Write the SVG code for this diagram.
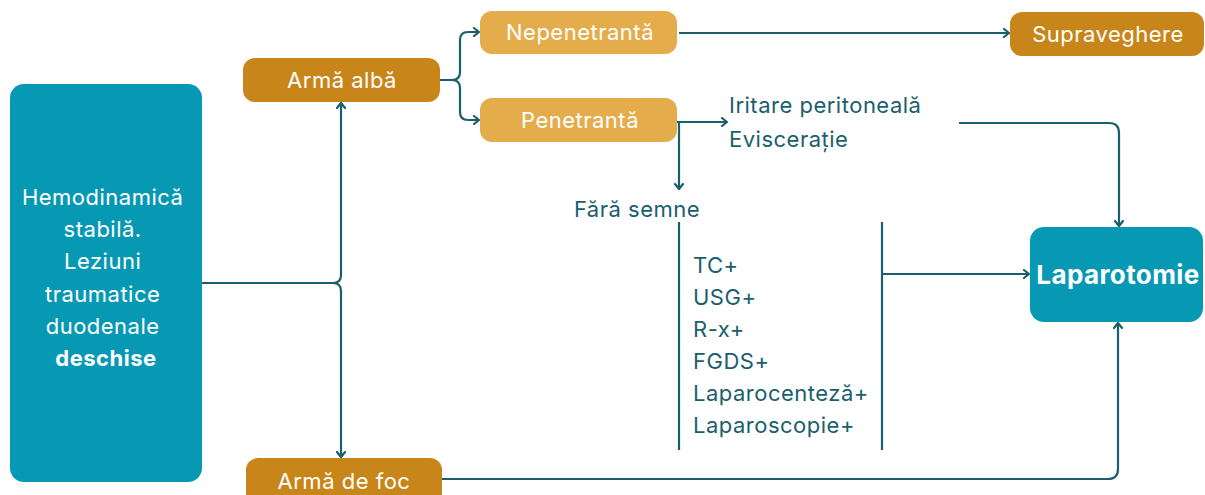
<svg xmlns="http://www.w3.org/2000/svg" width="1205" height="495" viewBox="0 0 1205 495">
<style>
.box-teal{fill:#0799b4}
.box-dark{fill:#c8861a}
.box-light{fill:#e5ac4b}
.wt{fill:#ffffff;font-family:Inter,"Liberation Sans",sans-serif;font-size:22px;letter-spacing:0.5px}
.tt{fill:#1b5e6d;font-family:Inter,"Liberation Sans",sans-serif;font-size:22px;letter-spacing:0.5px}
.big{font-size:26px;font-weight:bold;letter-spacing:0.4px}
.ln{fill:none;stroke:#1b5e6d;stroke-width:2.2}
</style>
<defs>
<marker id="arr" viewBox="0 0 10 10" refX="8" refY="5" markerWidth="10" markerHeight="10" markerUnits="userSpaceOnUse" orient="auto">
<path d="M3,1 L8,5 L3,9" fill="none" stroke="#1b5e6d" stroke-width="2.2" stroke-linecap="round" stroke-linejoin="round"/>
</marker>
</defs>
<rect width="1205" height="495" fill="#ffffff"/>
<g id="connectors">
<path class="ln" d="M202,283 H333 Q341,283 341,275 V103" marker-end="url(#arr)"/>
<path class="ln" d="M333,283 Q341,283 341,291 V457" marker-end="url(#arr)"/>
<path class="ln" d="M440,80 H452 Q460,80 460,72 V40 Q460,32 468,32 H479" marker-end="url(#arr)"/>
<path class="ln" d="M452,80 Q460,80 460,88 V112 Q460,120 468,120 H479" marker-end="url(#arr)"/>
<path class="ln" d="M679,33 H1009" marker-end="url(#arr)"/>
<path class="ln" d="M677,122 H727" marker-end="url(#arr)"/>
<path class="ln" d="M679,122 V189" marker-end="url(#arr)"/>
<path class="ln" d="M959,123 H1109 Q1119,123 1119,133 V226" marker-end="url(#arr)"/>
<path class="ln" d="M679,222 V450"/>
<path class="ln" d="M882,222 V450"/>
<path class="ln" d="M882,274 H1029" marker-end="url(#arr)"/>
<path class="ln" d="M442,479 H1108 Q1118,479 1118,469 V323" marker-end="url(#arr)"/>
</g>
<g id="node-hemo">
<rect class="box-teal" x="10" y="84" width="192" height="398" rx="14"/>
<text class="wt" text-anchor="middle">
<tspan x="106" y="205">Hemodinamică</tspan>
<tspan x="106" y="237">stabilă.</tspan>
<tspan x="106" y="269">Leziuni</tspan>
<tspan x="106" y="302">traumatice</tspan>
<tspan x="106" y="334">duodenale</tspan>
<tspan x="106" y="366" font-weight="bold">deschise</tspan>
</text>
</g>
<g id="node-arma-alba">
<rect class="box-dark" x="243" y="58" width="197" height="44" rx="12"/>
<text class="wt" x="342" y="88" text-anchor="middle">Armă albă</text>
</g>
<g id="node-nepenetranta">
<rect class="box-light" x="480" y="11" width="197" height="43" rx="12"/>
<text class="wt" x="580" y="40" text-anchor="middle">Nepenetrantă</text>
</g>
<g id="node-penetranta">
<rect class="box-light" x="480" y="98" width="197" height="44" rx="12"/>
<text class="wt" x="580" y="128" text-anchor="middle">Penetrantă</text>
</g>
<g id="node-supraveghere">
<rect class="box-dark" x="1010" y="12" width="194" height="44" rx="12"/>
<text class="wt" x="1108" y="42" text-anchor="middle">Supraveghere</text>
</g>
<g id="node-iritare">
<text class="tt" x="729" y="113">Iritare peritoneală</text>
<text class="tt" x="729" y="147">Eviscerație</text>
</g>
<g id="node-fara-semne">
<text class="tt" x="637" y="217" text-anchor="middle">Fără semne</text>
</g>
<g id="node-investigatii">
<text class="tt">
<tspan x="693" y="273">TC+</tspan>
<tspan x="693" y="305">USG+</tspan>
<tspan x="693" y="337">R-x+</tspan>
<tspan x="693" y="369">FGDS+</tspan>
<tspan x="693" y="401">Laparocenteză+</tspan>
<tspan x="693" y="433">Laparoscopie+</tspan>
</text>
</g>
<g id="node-laparotomie">
<rect class="box-teal" x="1030" y="227" width="173" height="95" rx="14"/>
<text class="wt big" x="1118" y="284" text-anchor="middle">Laparotomie</text>
</g>
<g id="node-arma-foc">
<rect class="box-dark" x="246" y="458" width="196" height="50" rx="12"/>
<text class="wt" x="344" y="489" text-anchor="middle">Armă de foc</text>
</g>
</svg>
